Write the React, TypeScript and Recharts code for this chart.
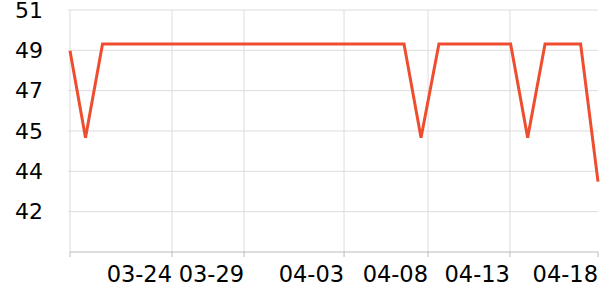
import { CartesianGrid, Line, LineChart, XAxis, YAxis } from "recharts"

// x = days from the first sample, y = reading
const days = [0, 0.91, 1.91, 19.61, 20.61, 21.66, 25.87, 26.87, 27.89, 29.98, 31]
const values = [48.86, 45.15, 49.15, 49.15, 45.15, 49.15, 49.15, 45.15, 49.15, 49.15, 43.28]

const xTicks = [0, 5.99, 10.22, 16.09, 21.02, 25.83, 31]
const xLabels = ["", "03-24", "03-29", "04-03", "04-08", "04-13", "04-18"]
const yTicks = [50.6, 48.88, 47.16, 45.44, 43.72, 42.0]
const yDomain = [40.28, 50.6]

const data = days.map((d, i) => ({ day: d, value: values[i] }))

const FONT = "'DejaVu Sans', sans-serif"

const XTick = ({ x, y, payload }: any) => {
  const idx = xTicks.indexOf(payload.value)
  return (
    <text x={x} y={y} dy="0.71em" textAnchor="end" fontSize={22.5} fontFamily={FONT} fill="#000">
      {xLabels[idx] ?? ""}
    </text>
  )
}

export default function App() {
  return (
    <div style={{ position: "absolute", top: 0, left: 0, width: 600, height: 300, background: "#fff" }}>
      <LineChart width={600} height={300} data={data} margin={{ top: 10, right: 2, bottom: 8, left: 0 }}>
        <CartesianGrid stroke="#dcdcdc" verticalValues={xTicks.slice(0, -1)} horizontalValues={yTicks} />
        <XAxis
          dataKey="day"
          type="number"
          domain={[0, 31]}
          ticks={xTicks}
          interval={0}
          height={40}
          tickSize={5}
          tickMargin={9}
          stroke="#bbbbbb"
          tick={<XTick />}
        />
        <YAxis
          type="number"
          domain={yDomain}
          ticks={yTicks}
          interval={0}
          width={70}
          axisLine={false}
          tickSize={2}
          tickMargin={25}
          tickLine={{ stroke: "#dcdcdc" }}
          tick={{ fontSize: 22, fontFamily: FONT, fill: "#000" }}
          tickFormatter={(v: number) => String(Math.round(v))}
        />
        <Line
          type="linear"
          dataKey="value"
          stroke="#ef4d2f"
          strokeWidth={3}
          dot={false}
          activeDot={false}
          isAnimationActive={false}
        />
      </LineChart>
    </div>
  )
}
